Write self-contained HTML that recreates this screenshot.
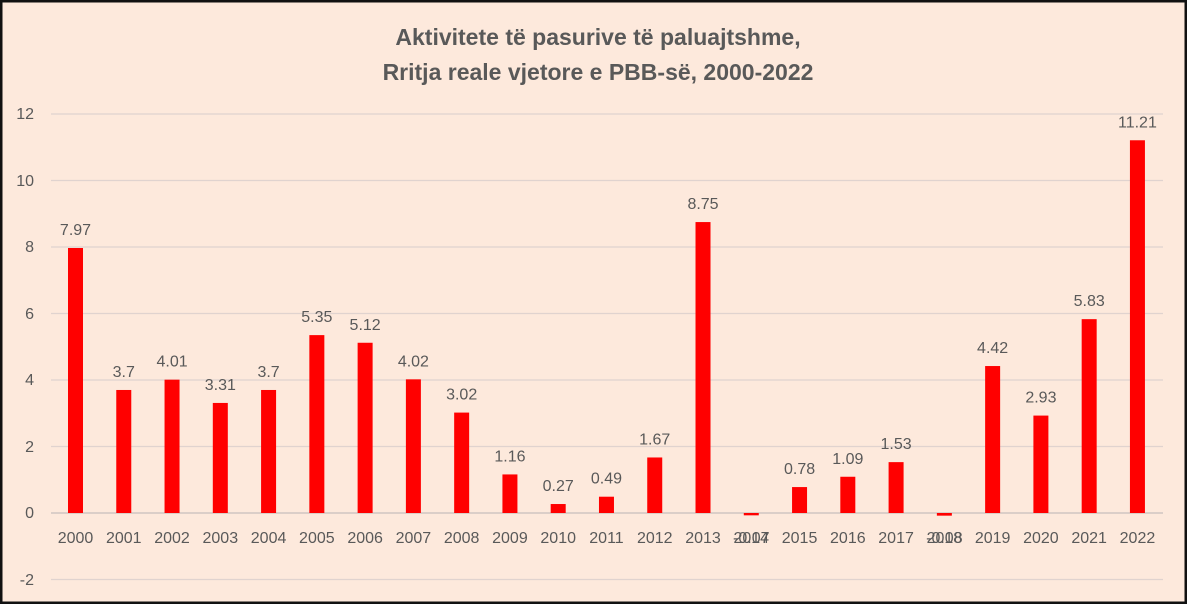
<!DOCTYPE html><html><head><meta charset="utf-8"><style>
body{margin:0;background:#fde9dc}
svg{display:block}
text{font-family:"Liberation Sans",sans-serif;fill:#595959}
</style></head><body>
<svg width="1187" height="604" xmlns="http://www.w3.org/2000/svg">
<rect x="0" y="0" width="1187" height="604" fill="#fde9dc"/>
<rect x="1" y="1" width="1185" height="602" fill="none" stroke="#111" stroke-width="3"/>
<text x="598" y="45" text-anchor="middle" font-size="23" font-weight="bold">Aktivitete të pasurive të paluajtshme,</text>
<text x="598" y="80" text-anchor="middle" font-size="23" font-weight="bold">Rritja reale vjetore e PBB-së, 2000-2022</text>
<g stroke="#e0d3cf" stroke-width="1.3">
<line x1="51" x2="1163" y1="114" y2="114"/><line x1="51" x2="1163" y1="180.5" y2="180.5"/>
<line x1="51" x2="1163" y1="247" y2="247"/><line x1="51" x2="1163" y1="313.5" y2="313.5"/>
<line x1="51" x2="1163" y1="380" y2="380"/><line x1="51" x2="1163" y1="446.5" y2="446.5"/>
<line x1="51" x2="1163" y1="579.5" y2="579.5"/>
</g>
<line x1="51" x2="1163" y1="513" y2="513" stroke="#d0c6c2" stroke-width="1.5"/>
<g font-size="16" text-anchor="end">
<text x="34" y="119">12</text><text x="34" y="186">10</text><text x="34" y="252">8</text>
<text x="34" y="319">6</text><text x="34" y="385">4</text><text x="34" y="452">2</text>
<text x="34" y="518">0</text><text x="34" y="585">-2</text>
</g>
<g id="bars"></g>
</svg>
<script>
(function(){
var v=[7.97,3.7,4.01,3.31,3.7,5.35,5.12,4.02,3.02,1.16,0.27,0.49,1.67,8.75,-0.07,0.78,1.09,1.53,-0.08,4.42,2.93,5.83,11.21];
var g=document.getElementById('bars'),h="";
for(var i=0;i<v.length;i++){var cx=75.5+i*48.27,y0=513,yv=513-v[i]*33.25;
var ty=Math.min(yv,y0),hh=Math.max(Math.abs(yv-y0),2);
h+='<rect x="'+(cx-7.5)+'" y="'+ty+'" width="15" height="'+hh+'" fill="#ff0000"/>';
if(v[i]>=0)h+='<text x="'+cx+'" y="'+(yv-13)+'" font-size="16" text-anchor="middle">'+v[i]+'</text>';
else h+='<text x="'+cx+'" y="543" font-size="16" text-anchor="middle">'+v[i]+'</text>';
h+='<text x="'+cx+'" y="543" font-size="16" text-anchor="middle">'+(2000+i)+'</text>';}
g.innerHTML=h;
})();
</script>
</body></html>
